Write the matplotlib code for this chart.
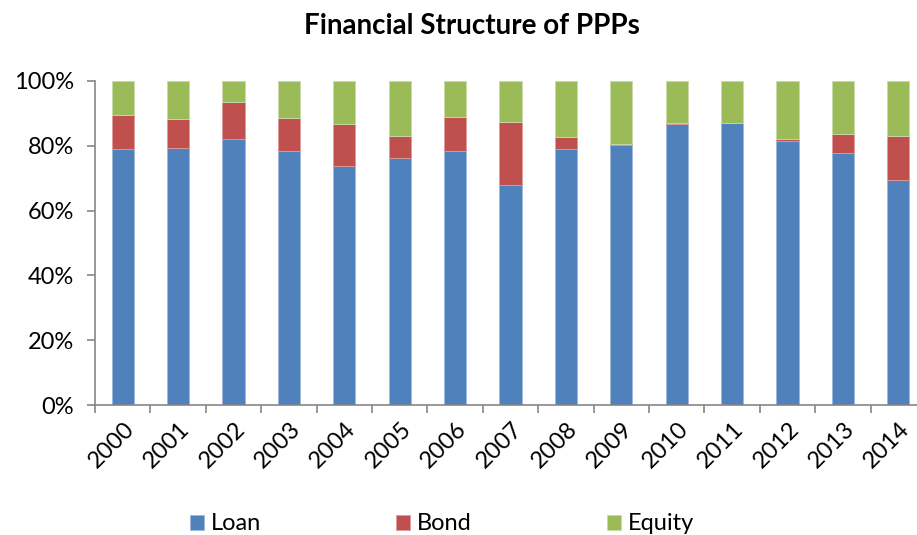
import numpy as np
import matplotlib.pyplot as plt
from matplotlib.transforms import ScaledTranslation

plt.rcParams['font.family'] = ['Lato', 'DejaVu Sans']

# Datos (porcentajes)
years = ['2000', '2001', '2002', '2003', '2004', '2005', '2006', '2007',
         '2008', '2009', '2010', '2011', '2012', '2013', '2014']
loan = [78.9, 79.2, 82.0, 78.3, 73.7, 76.1, 78.4, 67.9,
        79.0, 80.3, 86.6, 86.9, 81.6, 77.7, 69.3]
bond = [10.6, 9.1, 11.6, 10.4, 12.9, 7.0, 10.6, 19.5,
        3.7, 0.3, 0.4, 0.2, 0.4, 5.8, 13.6]
equity = [100 - l - b for l, b in zip(loan, bond)]

fig = plt.figure(figsize=(9.17, 5.35), dpi=100)
ax = fig.add_axes([95/917, 130/535, 831/917, 324/535])

x = np.arange(len(years))
w = 0.4
ax.bar(x, loan, w, color='#4F81BD', edgecolor='#9DB8DC', linewidth=0.6, label='Loan')
ax.bar(x, bond, w, bottom=loan, color='#C0504D', edgecolor='#DE9A98', linewidth=0.6, label='Bond')
ax.bar(x, equity, w, bottom=np.array(loan) + np.array(bond), color='#9BBB59',
       edgecolor='#CADBA8', linewidth=0.6, label='Equity')

ax.set_xlim(-0.5, len(years) - 0.5)
ax.set_ylim(0, 100)

# Ejes
for s in ['top', 'right']:
    ax.spines[s].set_visible(False)
for s in ['left', 'bottom']:
    ax.spines[s].set_color('#868686')
    ax.spines[s].set_linewidth(1.2)

ax.set_yticks([0, 20, 40, 60, 80, 100])
ax.set_yticklabels(['0%', '20%', '40%', '60%', '80%', '100%'], fontsize=17)
ax.tick_params(axis='y', length=6, width=1.2, color='#868686', pad=9)

ax.set_xticks(np.arange(-0.5, len(years), 1.0))
ax.set_xticklabels([''] * (len(years) + 1))
ax.tick_params(axis='x', which='major', length=6, width=1.2, color='#868686')
ax.set_xticks(x, minor=True)
ax.set_xticklabels(years, minor=True, fontsize=17, rotation=45,
                   ha='right', va='center', rotation_mode='anchor')
ax.tick_params(axis='x', which='minor', length=0, pad=15)
off = ScaledTranslation(8/100, 0, fig.dpi_scale_trans)
for lbl in ax.get_xticklabels(minor=True):
    lbl.set_transform(lbl.get_transform() + off)

fig.text(472/917, 1 - 34.3/535, 'Financial Structure of PPPs', fontsize=20,
         fontweight='bold', ha='center', va='baseline')

fig.legend(loc='center', bbox_to_anchor=(442/917, 11/535), ncol=3, frameon=False,
           fontsize=17, handlelength=0.6, handleheight=0.6, handletextpad=0.3,
           columnspacing=5.7, borderpad=0)

fig.savefig('out.png', dpi=100)
